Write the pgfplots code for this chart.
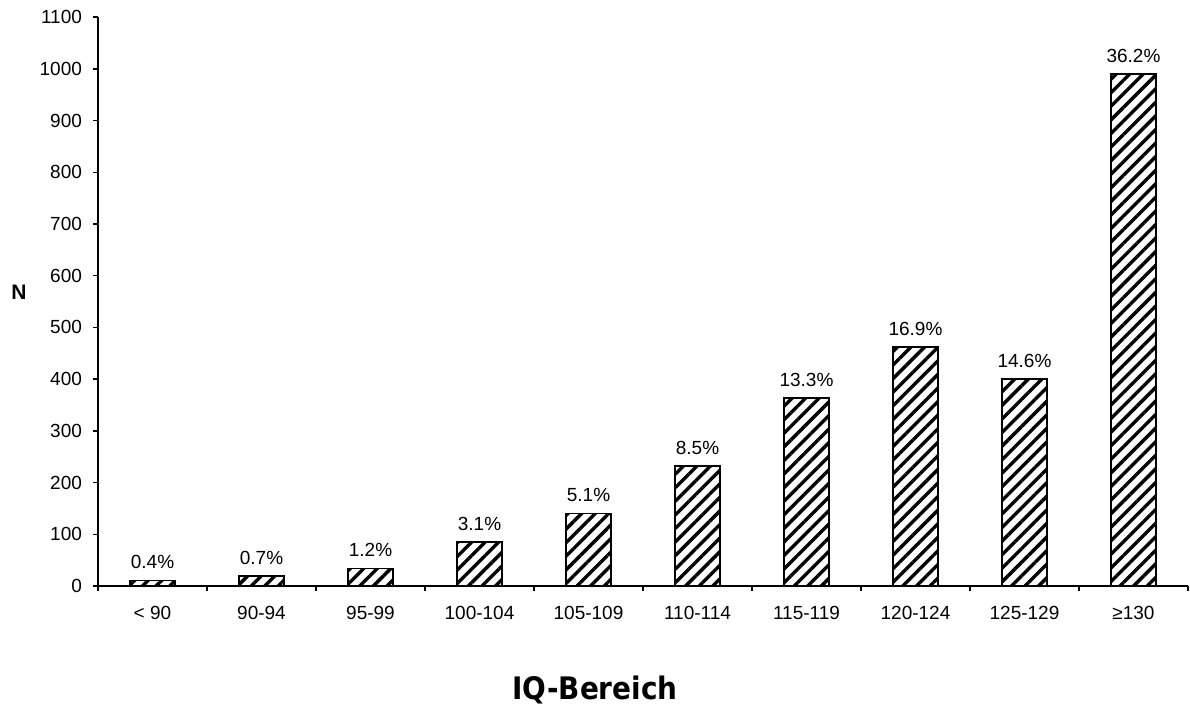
\documentclass[border=0pt]{standalone}
\usepackage{fontspec}
\setmainfont{Liberation Sans}
\newfontfamily\titlefont{DejaVu Sans Condensed}
\usepackage{pgfplots}
\usepackage{pgfplotstable}
\pgfplotsset{compat=1.18}
\usetikzlibrary{patterns.meta}

% IQ range (index), count N, share in percent
\pgfplotstableread{
x y p
0 11 0.4
1 19 0.7
2 34 1.2
3 85 3.1
4 140 5.1
5 232 8.5
6 364 13.3
7 462 16.9
8 400 14.6
9 990 36.2
}\iqdata

\begin{document}
\begin{tikzpicture}
\path[use as bounding box] (-49pt,-64.5pt) rectangle (546pt,293pt);
\begin{axis}[
  scale only axis,
  width=545pt, height=284.4pt,
  at={(0,0)}, anchor=south west,
  clip=false,
  xmin=-0.5, xmax=9.5, ymin=0, ymax=1100,
  axis x line*=bottom, axis y line*=left,
  axis line style={line width=0.7pt, black},
  ytick={0,100,...,1100},
  xtick={-0.5,0.5,...,9.5}, xticklabels={},
  extra x ticks={0,1,2,3,4,5,6,7,8,9},
  extra x tick labels={< 90,90-94,95-99,100-104,105-109,110-114,115-119,120-124,125-129,≥130},
  extra x tick style={tick style={draw=none}},
  tick align=outside,
  major tick length=2.5pt,
  tick style={line width=0.7pt, black},
  ticklabel style={font=\fontsize{9.5}{11}\selectfont},
  /pgf/number format/assume math mode=true,
  /pgf/number format/1000 sep={},
  yticklabel style={xshift=-2pt},
  xticklabel style={yshift=-4pt},
  ybar, bar width=22.5pt,
  point meta=explicit symbolic,
  nodes near coords={\pgfplotspointmeta\%},
  nodes near coords style={font=\fontsize{9.5}{11}\selectfont, yshift=2pt},
]
\addplot[draw=black, line width=0.75pt,
  pattern={Lines[angle=45,distance=4.8pt,line width=1.7pt]}, pattern color=black]
  table[x=x, y=y, meta=p] {\iqdata};
\node[font=\bfseries\fontsize{10.5}{12}\selectfont, xshift=-39.5pt] at (rel axis cs:0,0.517) {N};
\node[font=\titlefont\bfseries\fontsize{15.5}{18}\selectfont, yshift=-52pt] at (rel axis cs:0.456,0) {IQ-Bereich};
\end{axis}
\end{tikzpicture}
\end{document}
